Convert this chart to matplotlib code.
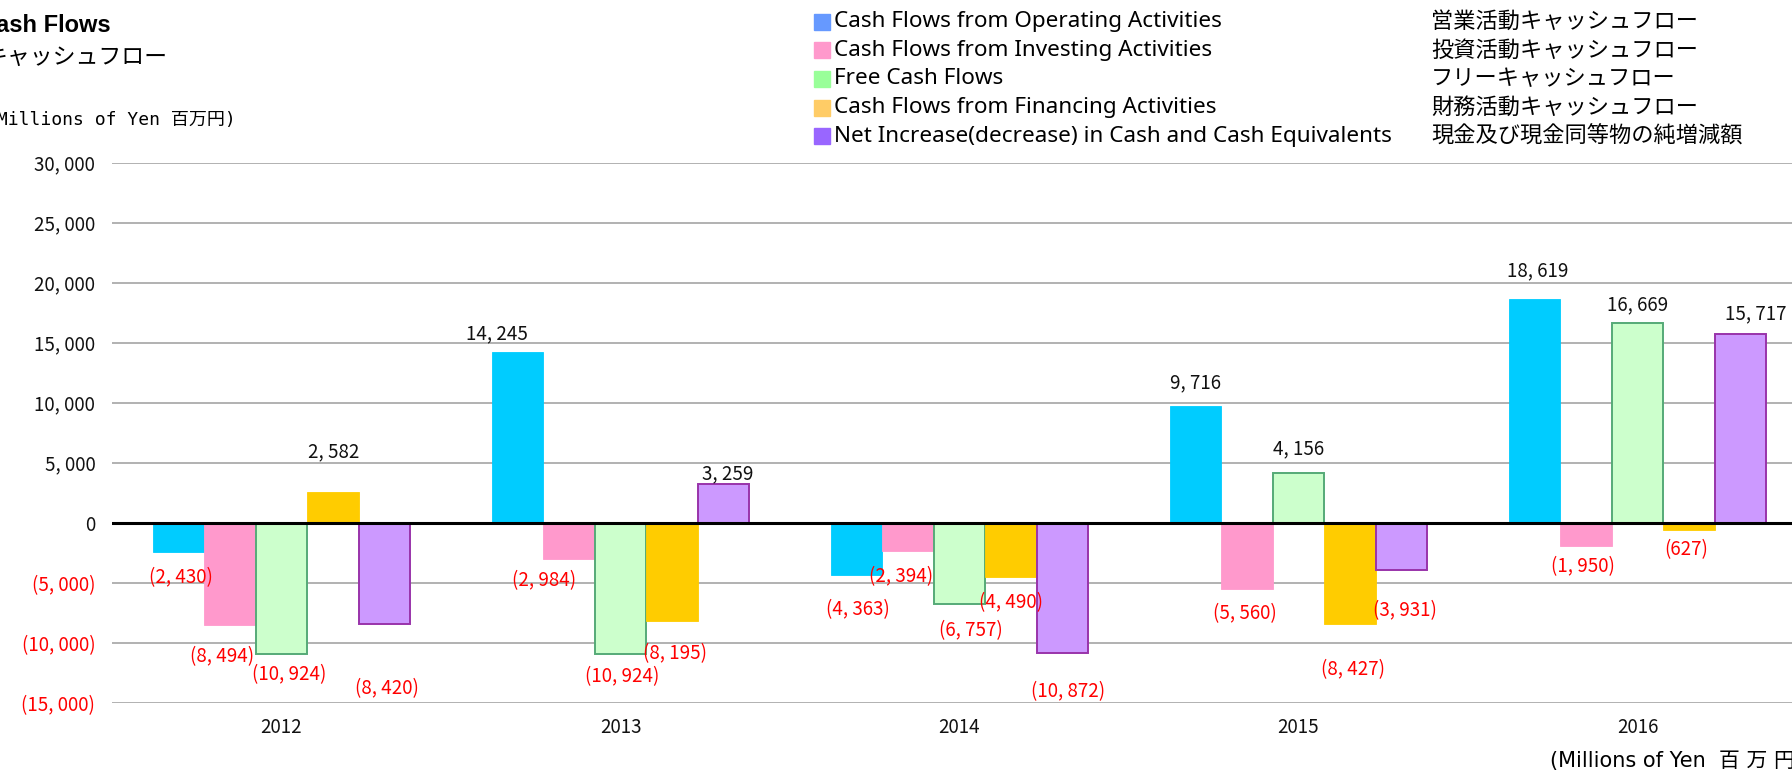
import matplotlib
matplotlib.use("Agg")
import matplotlib.pyplot as plt
import numpy as np
from matplotlib.patches import Rectangle

plt.rcParams['font.family'] = ['Noto Sans CJK JP', 'DejaVu Sans']

# data (millions of yen)
years = ['2012', '2013', '2014', '2015', '2016']
operating = [-2430, 14245, -4363, 9716, 18619]
investing = [-8494, -2984, -2394, -5560, -1950]
free_cf = [-10924, -10924, -6757, 4156, 16669]
financing = [2582, -8195, -4490, -8427, -627]
net_change = [-8420, 3259, -10872, -3931, 15717]

legend_en = ['Cash Flows from Operating Activities',
             'Cash Flows from Investing Activities',
             'Free Cash Flows',
             'Cash Flows from Financing Activities',
             'Net Increase(decrease) in Cash and Cash Equivalents']
legend_jp = ['営業活動キャッシュフロー', '投資活動キャッシュフロー', 'フリーキャッシュフロー',
             '財務活動キャッシュフロー', '現金及び現金同等物の純増減額']

series = [operating, investing, free_cf, financing, net_change]
bar_colors = ['#00CCFF', '#FF99CC', '#CCFFCC', '#FFCC00', '#CC99FF']
edge_colors = ['#00CCFF', '#FF99CC', '#55AA77', '#FFCC00', '#9933AA']
legend_colors = ['#6699FF', '#FF99CC', '#99FF99', '#FFCC66', '#9966FF']

# hand-placed data label nudges (pixels, relative to bar end)
label_nudge = [
    [(2, -26), (-21, 18), (1, -35), (0, 23), (3, 28)],
    [(-8, -32), (-25, -22), (-7, -25), (-2, -24), (-3, -21)],
    [(8, -21), (2, -23), (11, -27), (0, 24), (0, 18)],
    [(1, 40), (3, -33), (0, -26), (3, -46), (-3, -19)],
    [(2, -65), (4, 10), (6, -38), (3, -41), (15, 20)],
]


def fmt(v):
    s = f"{abs(v):,}".replace(',', ', ')
    return f"({s})" if v < 0 else s


W, H = 1792, 775
fig = plt.figure(figsize=(W / 100, H / 100), dpi=100)
ax = fig.add_axes([112 / W, (H - 702.7) / H, 1695 / W, 540 / H])

x = np.arange(len(years))
bw = 0.152
for i, vals in enumerate(series):
    lw = 1.4 if i in (2, 4) else 0.6
    ax.bar(x + (i - 2) * bw, vals, bw, color=bar_colors[i],
           edgecolor=edge_colors[i], linewidth=lw, zorder=3)
    for j, v in enumerate(vals):
        ax.annotate(fmt(v), xy=(x[j] + (i - 2) * bw, v), xytext=label_nudge[i][j],
                    textcoords='offset pixels', ha='center', va='center',
                    fontsize=13.5, color='red' if v < 0 else '#111111',
                    annotation_clip=False, zorder=5)

ax.set_xlim(-0.5, 4.5)
ax.set_ylim(-15000, 30000)
ticks = list(range(-15000, 30001, 5000))
ax.set_yticks(ticks)
ax.set_yticklabels([fmt(t) for t in ticks])
for lab, t in zip(ax.get_yticklabels(), ticks):
    lab.set_color('red' if t < 0 else '#111111')
ax.set_xticks(x)
ax.set_xticklabels(years)
ax.tick_params(axis='y', length=0, pad=12, labelsize=13.5)
ax.tick_params(axis='x', length=0, pad=10, labelsize=13.5, colors='#111111')
ax.yaxis.grid(True, color='#ABABAB', linewidth=1.3)
ax.set_axisbelow(True)
ax.axhline(0, color='black', linewidth=2.2, zorder=4)
for s in ax.spines.values():
    s.set_visible(False)

# titles (left part is cut off in the original)
fig.text(111 / W, 1 - 25 / H, 'Cash Flows', ha='right', va='center',
         fontsize=17, fontweight='bold', family=['Liberation Sans', 'DejaVu Sans'])
fig.text(168 / W, 1 - 57 / H, 'キャッシュフロー', ha='right', va='center', fontsize=16.5)
fig.text(236 / W, 1 - 120 / H, '(Millions of Yen 百万円)', ha='right', va='center',
         fontsize=13, family=['DejaVu Sans Mono', 'Noto Sans CJK JP'])
fig.text(1550 / W, 1 - 761 / H, '(Millions of Yen  百 万 円)', ha='left', va='center',
         fontsize=15, family=['DejaVu Sans', 'Noto Sans CJK JP'])

# legend drawn by hand: two text columns
for k in range(5):
    yc = 1 - (21.7 + 28.6 * k) / H
    fig.patches.append(Rectangle((814 / W, yc - 8 / H), 16 / W, 16 / H,
                                 transform=fig.transFigure, color=legend_colors[k]))
    fig.text(834 / W, yc, legend_en[k], ha='left', va='center', fontsize=16.2,
             family=['Noto Sans', 'DejaVu Sans'])
    fig.text(1431 / W, yc, legend_jp[k], ha='left', va='center', fontsize=16)

fig.savefig('out.png', dpi=100)
